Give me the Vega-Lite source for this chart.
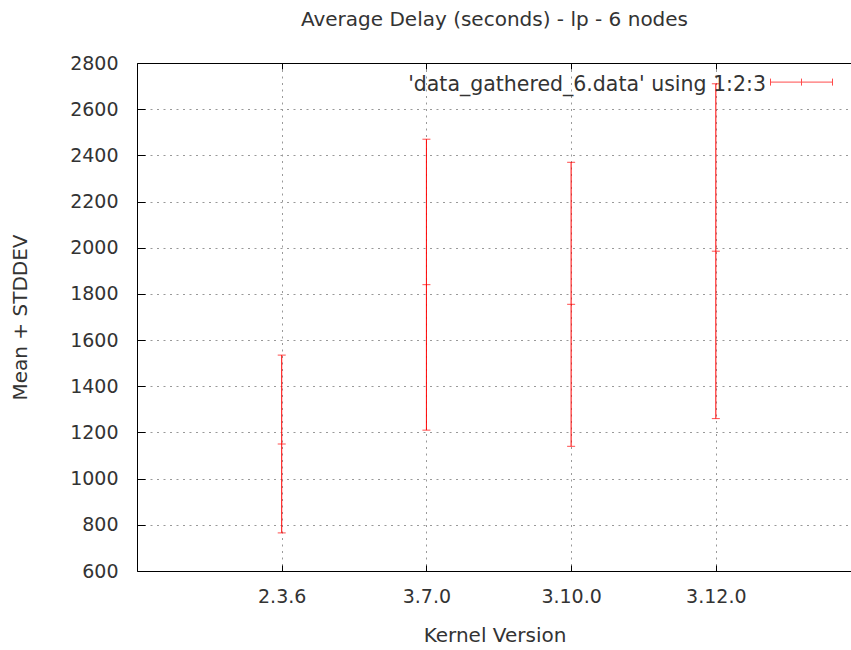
{
  "$schema": "https://vega.github.io/schema/vega-lite/v6.json",
  "autosize": {"type": "none"},
  "padding": {"left": 137, "top": 63, "right": 0, "bottom": 79},
  "width": 715,
  "height": 508,
  "background": "white",
  "config": {"view": {"stroke": null}, "font": "DejaVu Sans"},
  "title": {
    "text": "Average Delay (seconds) - lp - 6 nodes",
    "font": "DejaVu Sans",
    "fontSize": 20,
    "fontWeight": "normal",
    "color": "#333",
    "anchor": "middle",
    "frame": "group",
    "baseline": "alphabetic",
    "offset": 8
  },
  "data": {
    "values": [
      {"kernel": "2.3.6", "pos": 1, "mean": 1150, "stddev": 385, "low": 765, "high": 1535, "series": "'data_gathered_6.data' using 1:2:3"},
      {"kernel": "3.7.0", "pos": 2, "mean": 1840, "stddev": 630, "low": 1210, "high": 2470, "series": "'data_gathered_6.data' using 1:2:3"},
      {"kernel": "3.10.0", "pos": 3, "mean": 1755, "stddev": 615, "low": 1140, "high": 2370, "series": "'data_gathered_6.data' using 1:2:3"},
      {"kernel": "3.12.0", "pos": 4, "mean": 1985, "stddev": 725, "low": 1260, "high": 2710, "series": "'data_gathered_6.data' using 1:2:3"}
    ]
  },
  "resolve": {"axis": {"x": "independent"}},
  "layer": [
    {
      "mark": {"type": "rule", "strokeWidth": 1},
      "encoding": {
        "x": {
          "field": "pos",
          "type": "quantitative",
          "scale": {"domain": [0, 4.941], "nice": false, "zero": false},
          "axis": {
            "orient": "bottom",
            "values": [1, 2, 3, 4],
            "labelExpr": "['','2.3.6','3.7.0','3.10.0','3.12.0'][datum.value]",
            "title": "Kernel Version",
            "titleFont": "DejaVu Sans",
            "titleFontSize": 20,
            "titleFontWeight": "normal",
            "titleColor": "#333",
            "titleBaseline": "alphabetic",
            "titleY": 70,
            "labelFont": "DejaVu Sans",
            "labelFontSize": 19,
            "labelColor": "#333",
            "labelBaseline": "alphabetic",
            "labelPadding": 37,
            "labelFlush": false,
            "labelOverlap": false,
            "tickSize": -6,
            "tickColor": "#000",
            "domainColor": "#000",
            "grid": true,
            "gridColor": "#999",
            "gridDash": [2, 4.5],
            "gridWidth": 1
          }
        },
        "y": {
          "field": "low",
          "type": "quantitative",
          "scale": {"domain": [600, 2800], "nice": false, "zero": false},
          "axis": {
            "orient": "left",
            "values": [600, 800, 1000, 1200, 1400, 1600, 1800, 2000, 2200, 2400, 2600, 2800],
            "format": "d",
            "title": "Mean + STDDEV",
            "titleFont": "DejaVu Sans",
            "titleFontSize": 20,
            "titleFontWeight": "normal",
            "titleColor": "#333",
            "titleBaseline": "alphabetic",
            "titleX": -111,
            "labelFont": "DejaVu Sans",
            "labelFontSize": 19,
            "labelColor": "#333",
            "labelPadding": 27,
            "labelFlush": false,
            "labelOverlap": false,
            "tickSize": -8,
            "tickColor": "#000",
            "domainColor": "#000",
            "grid": true,
            "gridColor": "#999",
            "gridDash": [2, 4.5],
            "gridWidth": 1
          }
        },
        "y2": {"field": "high"},
        "color": {
          "field": "series",
          "type": "nominal",
          "scale": {"range": ["#ff0000"]},
          "legend": {
            "orient": "none",
            "legendX": 633,
            "legendY": 0,
            "title": null,
            "padding": 0,
            "symbolType": "M-1,-0.4H1M-1,-0.513V-0.287M1,-0.513V-0.287M0,-0.513V-0.287",
            "symbolSize": 3844,
            "symbolStrokeColor": "#ff0000",
            "symbolStrokeWidth": 1,
            "symbolFillColor": "transparent",
            "labelAlign": "right",
            "labelBaseline": "bottom",
            "labelOffset": -67,
            "labelFont": "DejaVu Sans",
            "labelFontSize": 20.5,
            "labelColor": "#333",
            "labelLimit": 0
          }
        }
      }
    },
    {
      "mark": {"type": "tick", "orient": "horizontal", "size": 8, "thickness": 1},
      "encoding": {
        "x": {"field": "pos", "type": "quantitative", "axis": null},
        "y": {"field": "low", "type": "quantitative"},
        "color": {"field": "series", "type": "nominal"}
      }
    },
    {
      "mark": {"type": "tick", "orient": "horizontal", "size": 8, "thickness": 1},
      "encoding": {
        "x": {"field": "pos", "type": "quantitative", "axis": null},
        "y": {"field": "mean", "type": "quantitative"},
        "color": {"field": "series", "type": "nominal"}
      }
    },
    {
      "mark": {"type": "tick", "orient": "horizontal", "size": 8, "thickness": 1},
      "encoding": {
        "x": {"field": "pos", "type": "quantitative", "axis": null},
        "y": {"field": "high", "type": "quantitative"},
        "color": {"field": "series", "type": "nominal"}
      }
    },
    {
      "mark": {"type": "tick", "orient": "horizontal", "size": 8, "thickness": 1, "opacity": 0},
      "encoding": {
        "x": {
          "field": "pos",
          "type": "quantitative",
          "axis": {
            "orient": "top",
            "values": [1, 2, 3, 4],
            "labels": false,
            "title": null,
            "grid": false,
            "tickSize": -6,
            "tickColor": "#000",
            "domainColor": "#000"
          }
        },
        "y": {"field": "mean", "type": "quantitative"}
      }
    }
  ]
}
